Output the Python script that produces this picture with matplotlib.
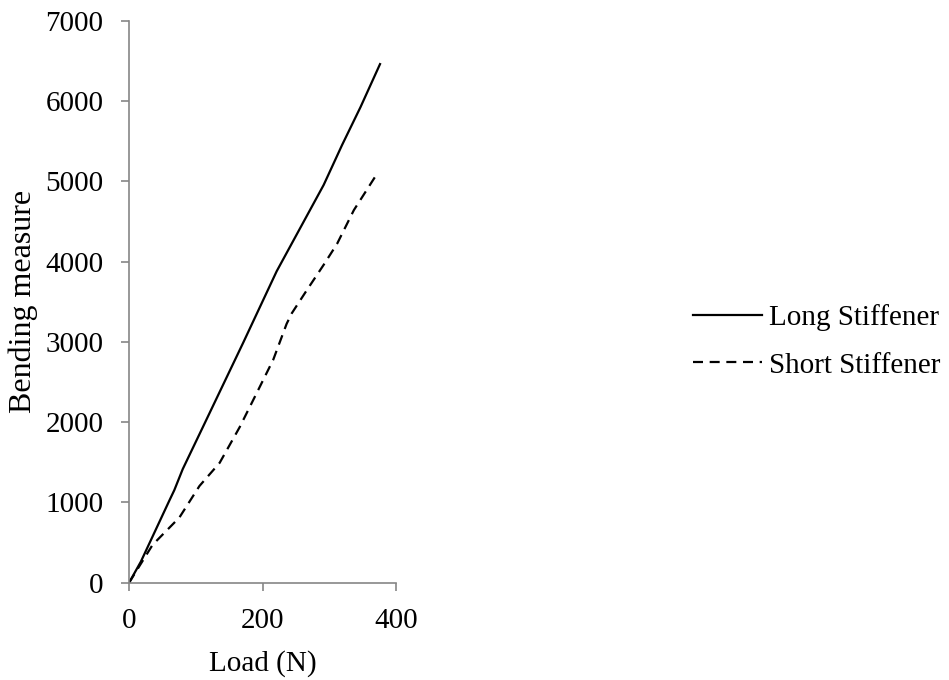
import numpy as np
import matplotlib.pyplot as plt

plt.rcParams['font.family'] = ['Liberation Serif', 'DejaVu Serif']

# values
long_load = [0, 17.6, 60.3, 67.8, 80.4, 110.6, 170.9, 221.1, 291.5, 319.1, 346.7, 375.9]
long_bend = [0, 262, 1023, 1154, 1416, 1940, 2989, 3880, 4955, 5453, 5925, 6460]

short_load = [0, 17.6, 35.2, 75.4, 105.5, 135.7, 165.8, 191.0, 216.0, 236.0, 243.7,
              266.3, 291.5, 311.6, 336.7, 356.8, 372.9]
short_bend = [0, 236, 472, 813, 1206, 1494, 1940, 2360, 2779, 3225, 3356,
              3645, 3960, 4222, 4641, 4903, 5113]

fig = plt.figure(figsize=(9.49, 6.8), dpi=100)
ax = fig.add_axes([0.136, 0.143, 0.2814, 0.8265])

ax.plot(long_load, long_bend, color='black', lw=1.6, label='Long Stiffener')
ax.plot(short_load, short_bend, color='black', lw=1.6, ls=(0, (4.5, 3)), label='Short Stiffener')

ax.set_xlim(0, 400)
ax.set_ylim(0, 7000)
ax.set_xticks([0, 200, 400])
ax.set_yticks(np.arange(0, 7001, 1000))
ax.set_xlabel('Load (N)', fontsize=21, labelpad=12)
ax.set_ylabel('Bending measure', fontsize=23, labelpad=5)
ax.tick_params(labelsize=21, direction='out', length=6, width=1.2, color='#868686')
ax.tick_params(axis='y', pad=12.5)
ax.tick_params(axis='x', pad=12)
for s in ['top', 'right']:
    ax.spines[s].set_visible(False)
for s in ['left', 'bottom']:
    ax.spines[s].set_color('#868686')
    ax.spines[s].set_linewidth(1.2)

fig.legend(loc='center left', bbox_to_anchor=(0.730, 0.498), frameon=False, fontsize=21,
           borderpad=0, borderaxespad=0, handlelength=2.36, handletextpad=0.24, labelspacing=0.72)

fig.savefig('out.png', dpi=100)
